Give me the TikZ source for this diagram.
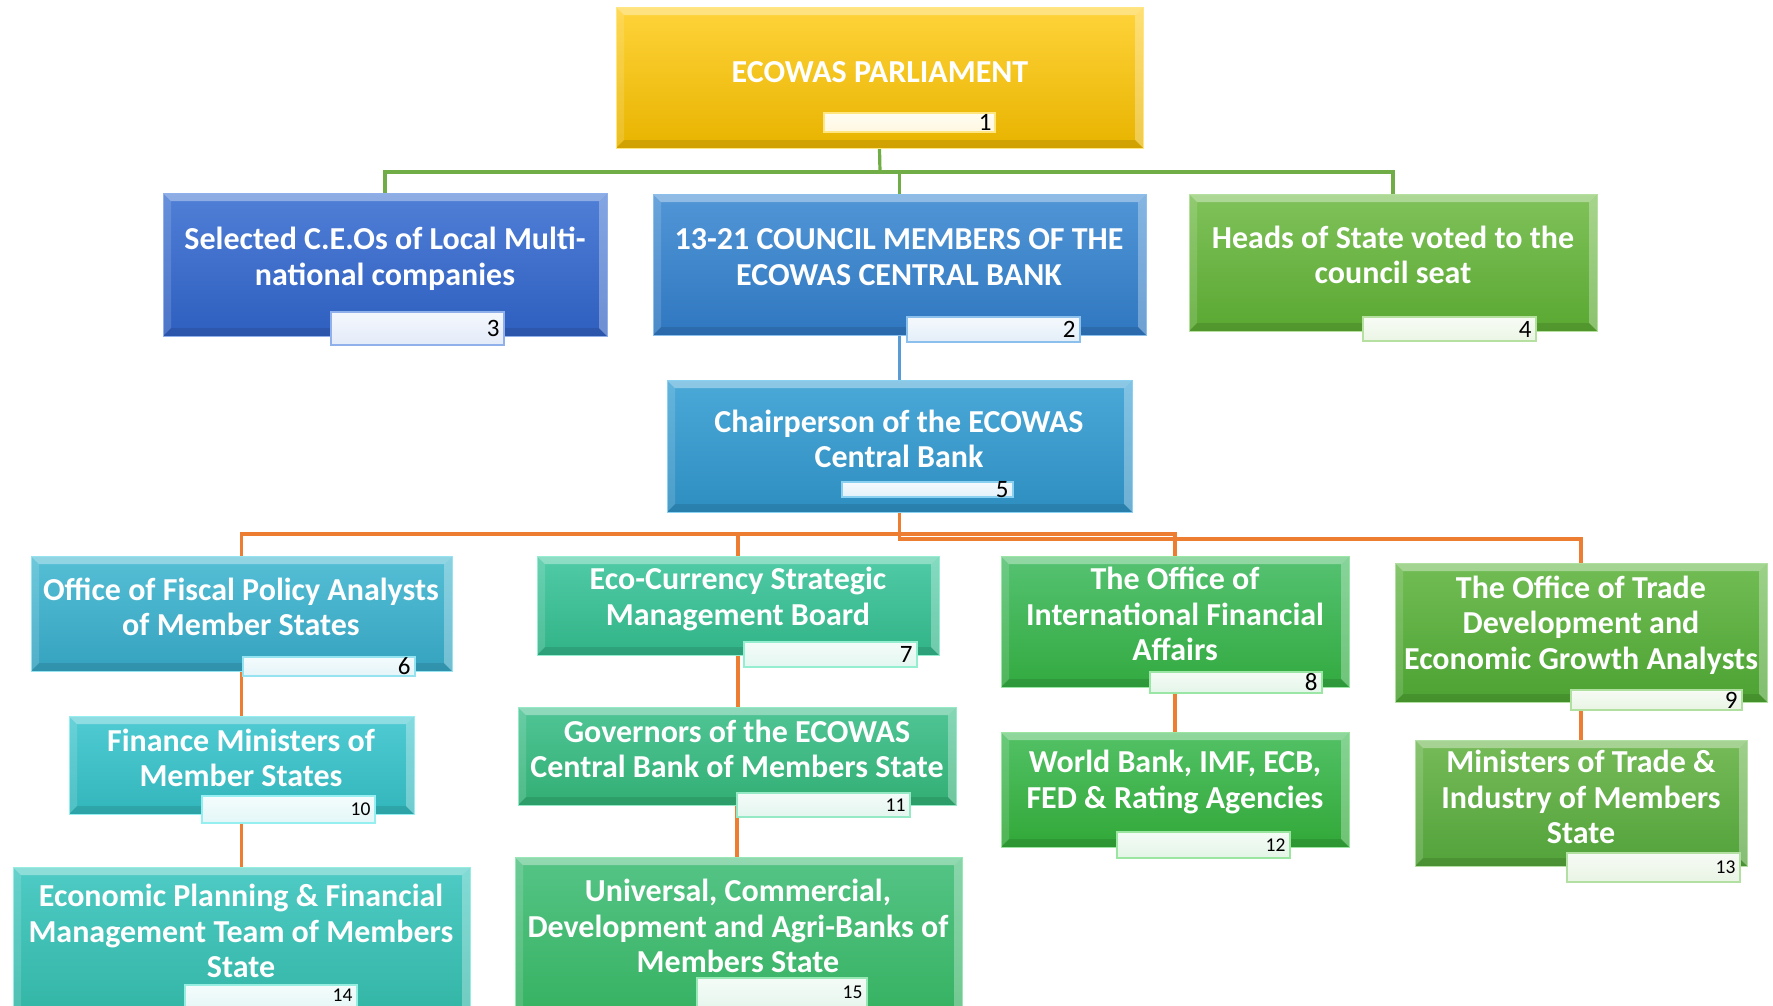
\documentclass[tikz,border=0pt]{standalone}
\usepackage{fontspec}
\setmainfont{Carlito}
\usetikzlibrary{fit,backgrounds}

% connector colours
\definecolor{linkgreen}{HTML}{70AD47}
\definecolor{linkblue}{HTML}{5B9BD5}
\definecolor{linkorange}{HTML}{ED7D31}

% box colours: top, bottom, rim
\definecolor{goldT}{HTML}{FFD33A}\definecolor{goldB}{HTML}{E8B400}\definecolor{goldR}{HTML}{FFE680}
\definecolor{royT}{HTML}{4F7FD6}\definecolor{royB}{HTML}{2F5FBF}\definecolor{royR}{HTML}{8FB0EA}
\definecolor{midT}{HTML}{5196D6}\definecolor{midB}{HTML}{2F77C0}\definecolor{midR}{HTML}{8CC0EC}
\definecolor{skyT}{HTML}{4BA9D8}\definecolor{skyB}{HTML}{2E8EC0}\definecolor{skyR}{HTML}{8AD0F0}
\definecolor{leafT}{HTML}{80C25A}\definecolor{leafB}{HTML}{5AA832}\definecolor{leafR}{HTML}{B5E0A0}
\definecolor{cyaT}{HTML}{55BFD5}\definecolor{cyaB}{HTML}{35A2BF}\definecolor{cyaR}{HTML}{95E2F0}
\definecolor{tqaT}{HTML}{50CBD3}\definecolor{tqaB}{HTML}{32B6BB}\definecolor{tqaR}{HTML}{95EEF0}
\definecolor{tqbT}{HTML}{4ECBC5}\definecolor{tqbB}{HTML}{30B3A2}\definecolor{tqbR}{HTML}{95EEE0}
\definecolor{mnaT}{HTML}{50CBA6}\definecolor{mnaB}{HTML}{32B387}\definecolor{mnaR}{HTML}{95EED0}
\definecolor{mnbT}{HTML}{50C596}\definecolor{mnbB}{HTML}{32AF74}\definecolor{mnbR}{HTML}{95EAC5}
\definecolor{mncT}{HTML}{55C486}\definecolor{mncB}{HTML}{33B05E}\definecolor{mncR}{HTML}{98E8B5}
\definecolor{grnaT}{HTML}{55C272}\definecolor{grnaB}{HTML}{33AA40}\definecolor{grnaR}{HTML}{9AE6A5}
\definecolor{grnbT}{HTML}{52C166}\definecolor{grnbB}{HTML}{32A838}\definecolor{grnbR}{HTML}{9AE6A0}
\definecolor{olvaT}{HTML}{72BD55}\definecolor{olvaB}{HTML}{4CA232}\definecolor{olvaR}{HTML}{B0E0A0}
\definecolor{olvbT}{HTML}{76BB58}\definecolor{olvbB}{HTML}{52A23A}\definecolor{olvbR}{HTML}{B2E0A2}

% bevelled faces inside a box
\newcommand\bevelfaces{%
  \path (path picture bounding box.north west) coordinate (pNW)
        (path picture bounding box.north east) coordinate (pNE)
        (path picture bounding box.south west) coordinate (pSW)
        (path picture bounding box.south east) coordinate (pSE);
  \fill[white,opacity=.36] (pNW) -- (pNE) -- ([shift={(-8pt,-8pt)}]pNE) -- ([shift={(8pt,-8pt)}]pNW) -- cycle;
  \fill[white,opacity=.14] (pNW) -- ([shift={(8pt,-8pt)}]pNW) -- ([shift={(8pt,8pt)}]pSW) -- (pSW) -- cycle;
  \fill[white,opacity=.30] (pNE) -- (pSE) -- ([shift={(-8pt,8pt)}]pSE) -- ([shift={(-8pt,-8pt)}]pNE) -- cycle;
  \fill[black,opacity=.10] (pSW) -- (pSE) -- ([shift={(-8pt,8pt)}]pSE) -- ([shift={(8pt,8pt)}]pSW) -- cycle;
}

\tikzset{
  orgbox/.style={rectangle, inner sep=0pt, draw=#1R, line width=1pt,
    top color=#1T, bottom color=#1B, path picture={\bevelfaces}},
  heading/.style={text=white, font=\bfseries\fontsize{32}{35.5}\selectfont,
    align=center, inner sep=0pt},
  numbar/.style={rectangle, inner sep=0pt, draw=#1R, line width=1.3pt,
    top color=white!94!#1T, bottom color=white!84!#1T},
  numbig/.style={font=\fontsize{25}{25}\selectfont, text=black, inner sep=0pt, anchor=east},
  numsmall/.style={font=\fontsize{19.5}{19.5}\selectfont, text=black, inner sep=0pt, anchor=east},
  link/.style={line width=3.2pt, draw=#1},
}

\begin{document}
\begin{tikzpicture}[x=1pt,y=-1pt]
\clip (0,0) rectangle (1773,1005);

% ---- boxes ----
\node[orgbox=gold, fit={(616,7) (1143,148)}] (b1) {};
\node[orgbox=roy,  fit={(163,193) (607,336)}] (b3) {};
\node[orgbox=mid,  fit={(653,194) (1146,335)}] (b2) {};
\node[orgbox=leaf, fit={(1189,194) (1597,331)}] (b4) {};
\node[orgbox=sky,  fit={(667,380) (1132,512)}] (b5) {};
\node[orgbox=cya,  fit={(31,556) (452,671)}] (b6) {};
\node[orgbox=tqa,  fit={(69,716) (414,814)}] (b10) {};
\node[orgbox=tqb,  fit={(13,867) (470,1030)}] (b14) {};
\node[orgbox=mna,  fit={(537,556) (939,655)}] (b7) {};
\node[orgbox=mnb,  fit={(518,707) (956,805)}] (b11) {};
\node[orgbox=mnc,  fit={(515,857) (962,1030)}] (b15) {};
\node[orgbox=grna, fit={(1001,556) (1349,687)}] (b8) {};
\node[orgbox=grnb, fit={(1001,732) (1349,847)}] (b12) {};
\node[orgbox=olva, fit={(1395,563) (1767,702)}] (b9) {};
\node[orgbox=olvb, fit={(1415,740) (1747,866)}] (b13) {};

% ---- titles ----
\node[heading] (t1) at (880,72) {ECOWAS PARLIAMENT};
\node[heading] (t3) at (385,259) {Selected C.E.Os of Local Multi-\\national companies};
\node[heading] (t2) at (899,257) {13-21 COUNCIL MEMBERS OF THE\\ECOWAS CENTRAL BANK};
\node[heading] (t4) at (1393,255) {Heads of State voted to the\\council seat};
\node[heading] (t5) at (899,439) {Chairperson of the ECOWAS\\Central Bank};
\node[heading] (t6) at (241,607) {Office of Fiscal Policy Analysts\\of Member States};
\node[heading] (t10) at (241,758) {Finance Ministers of\\Member States};
\node[heading] (t14) at (241,931) {Economic Planning \& Financial\\Management Team of Members\\State};
\node[heading] (t7) at (738,599) {Eco-Currency Strategic\\Management Board};
\node[heading] (t11) at (737,749) {Governors of the ECOWAS\\Central Bank of Members State};
\node[heading] (t15) at (738,926) {Universal, Commercial,\\Development and Agri-Banks of\\Members State};
\node[heading] (t8) at (1175,614) {The Office of\\International Financial\\Affairs};
\node[heading] (t12) at (1175,782) {World Bank, IMF, ECB,\\FED \& Rating Agencies};
\node[heading] (t9) at (1581,625) {The Office of Trade\\Development and\\Economic Growth Analysts};
\node[heading] (t13) at (1581,797) {Ministers of Trade \&\\Industry of Members\\State};

% ---- number bars ----
\node[numbar=gold, fit={(824,113) (995,132)}] (l1) {};
\node[numbar=roy,  fit={(331,312) (504,345)}] (l3) {};
\node[numbar=mid,  fit={(907,317) (1080,342)}] (l2) {};
\node[numbar=leaf, fit={(1363,317) (1536,341)}] (l4) {};
\node[numbar=sky,  fit={(842,482) (1013,497)}] (l5) {};
\node[numbar=cya,  fit={(243,657) (415,676)}] (l6) {};
\node[numbar=tqa,  fit={(202,796) (375,823)}] (l10) {};
\node[numbar=tqb,  fit={(185,985) (357,1012)}] (l14) {};
\node[numbar=mna,  fit={(744,642) (917,667)}] (l7) {};
\node[numbar=mnb,  fit={(737,793) (910,817)}] (l11) {};
\node[numbar=mnc,  fit={(697,978) (867,1012)}] (l15) {};
\node[numbar=grna, fit={(1150,672) (1322,693)}] (l8) {};
\node[numbar=grnb, fit={(1117,832) (1290,858)}] (l12) {};
\node[numbar=olva, fit={(1571,690) (1742,710)}] (l9) {};
\node[numbar=olvb, fit={(1567,853) (1740,882)}] (l13) {};

\node[numbig] (n1) at ([xshift=-4pt]l1.east) {1};
\node[numbig] (n3) at ([xshift=-5pt]l3.east) {3};
\node[numbig] (n2) at ([xshift=-5pt]l2.east) {2};
\node[numbig] (n4) at ([xshift=-5pt]l4.east) {4};
\node[numbig] (n5) at ([xshift=-5pt]l5.east) {5};
\node[numbig] (n6) at ([xshift=-5pt]l6.east) {6};
\node[numbig] (n7) at ([xshift=-5pt]l7.east) {7};
\node[numbig] (n8) at ([xshift=-5pt]l8.east) {8};
\node[numbig] (n9) at ([xshift=-5pt]l9.east) {9};
\node[numsmall] (n10) at ([xshift=-5pt]l10.east) {10};
\node[numsmall] (n11) at ([xshift=-5pt]l11.east) {11};
\node[numsmall] (n12) at ([xshift=-5pt]l12.east) {12};
\node[numsmall] (n13) at ([xshift=-5pt]l13.east) {13};
\node[numsmall] (n14) at ([xshift=-5pt,yshift=3pt]l14.east) {14};
\node[numsmall] (n15) at ([xshift=-5pt,yshift=3pt]l15.east) {15};

% ---- connectors ----
\coordinate (gbus) at (880,172);
\coordinate (obus) at (899.5,534);
\coordinate (obus2) at (899.5,539);
\begin{scope}[on background layer]
  \draw[link=linkgreen] (b1.south) -- (gbus);
  \draw[link=linkgreen] (gbus) -| (b3.north);
  \draw[link=linkgreen] (gbus) -| (b2.north);
  \draw[link=linkgreen] (gbus) -| (b4.north);
  \draw[link=linkblue] (b2.south) -- (b5.north);
  \draw[link=linkorange] (b5.south) -- (obus);
  \draw[link=linkorange] (obus) -| (b6.north);
  \draw[link=linkorange] (obus) -| (b7.north);
  \draw[link=linkorange] (obus) -| (b8.north);
  \draw[link=linkorange] (obus) -- (obus2) -| (b9.north);
  \draw[link=linkorange] (b6.south) -- (b10.north);
  \draw[link=linkorange] (b10.south) -- (b14.north);
  \draw[link=linkorange] (b7.south) -- (b7.south |- b11.north);
  \draw[link=linkorange] (b11.south) -- (b11.south |- b15.north);
  \draw[link=linkorange] (b8.south) -- (b12.north);
  \draw[link=linkorange] (b9.south) -- (b9.south |- b13.north);
\end{scope}
\end{tikzpicture}
\end{document}
